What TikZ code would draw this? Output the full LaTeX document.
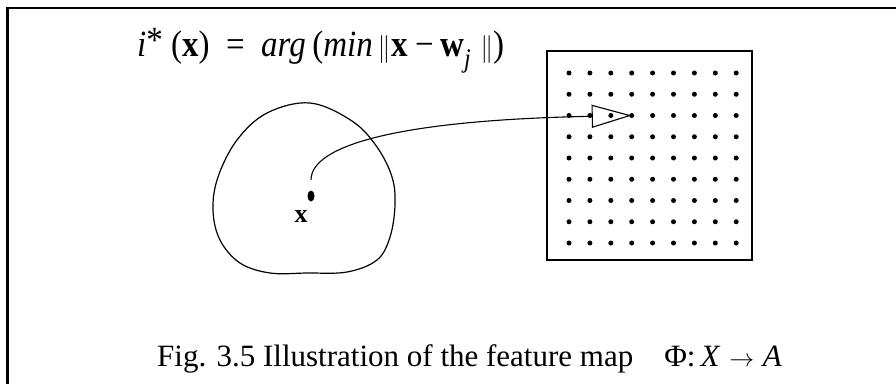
\documentclass[tikz,border=0pt]{standalone}
\usepackage{fontspec}
\setmainfont{Liberation Serif}
\usepackage{tikz}
\usetikzlibrary{arrows.meta,positioning,shapes.geometric}
\tikzset{
  frameline/.style={line width=2.4pt, line cap=rect},
  region/.style={line width=1.2pt},
  lattice/.style={
    draw,
    line width=1.1pt,
    minimum width=205pt,
    minimum height=209pt,
    inner sep=0pt
  },
  gdot/.style={
    circle,
    fill,
    inner sep=0pt,
    minimum size=5pt
  },
  inputdot/.style={
    ellipse,
    fill,
    inner sep=0pt,
    minimum width=7pt,
    minimum height=11pt
  },
  maparrow/.style={-{Triangle[open, length=40pt, width=23pt, line width=1.1pt]}, line width=1.1pt},
  bigtext/.style={font=\fontsize{31}{36}\selectfont}
}

\begin{document}
\begin{tikzpicture}[x=1pt, y=-1pt]
  \useasboundingbox (0,0) rectangle (896,383);
  \draw[frameline] (7.5,390) -- (7.5,8) -- (900,8);

  % winner rule
  \node[bigtext, font=\fontsize{33}{38}\selectfont, anchor=base west, inner sep=0pt] (rule) at (137,56)
    {\scalebox{1}[1.12]{\textit{i}\raisebox{0.1em}{*}\hspace{0.25em}(\textbf{x})\hspace{0.5em}=\hspace{0.5em}\textit{arg}\hspace{0.2em}(\textit{min}\hspace{0.15em}$\|$\hspace{0.05em}\textbf{x}\hspace{0.2em}−\hspace{0.2em}\textbf{w}\raisebox{-0.3em}{\fontsize{24}{24}\selectfont\textit{j}}\hspace{0.3em}$\|$)}};

  % input space
  \draw[region] plot[smooth cycle, tension=0.6] coordinates {
    (310,103) (352,121) (377,147) (392,177) (395,205) (390,237) (377,260)
    (347,272) (307,273) (270,273) (240,263) (220,240) (213,210) (218,177)
    (237,140) (267,113)};
  \node[inputdot] (xpt) at (311,196) {};
  \node[font=\fontsize{26}{30}\selectfont\bfseries, inner sep=0pt] (xlbl) at (301,217) {x};
  \coordinate (start) at (311,180);

  % output lattice
  \node[lattice] (grid) at (649.5,155.5) {};
  \foreach \c in {1,...,9}
    \foreach \r in {1,...,9}
      \node[gdot] (d-\c-\r) at ({569+(\c-1)*20.9},{73+(\r-1)*21.25}) {};

  \draw[maparrow] (start) .. controls (311,145) and (400,120) .. (d-4-3.center);

  % caption
  \node[bigtext, anchor=base west, inner sep=0pt] (caption) at (157,366)
    {Fig. 3.5 Illustration of the feature map\quad Φ:\,\textit{X}\;$\rightarrow$\;\textit{A}};
\end{tikzpicture}
\end{document}
